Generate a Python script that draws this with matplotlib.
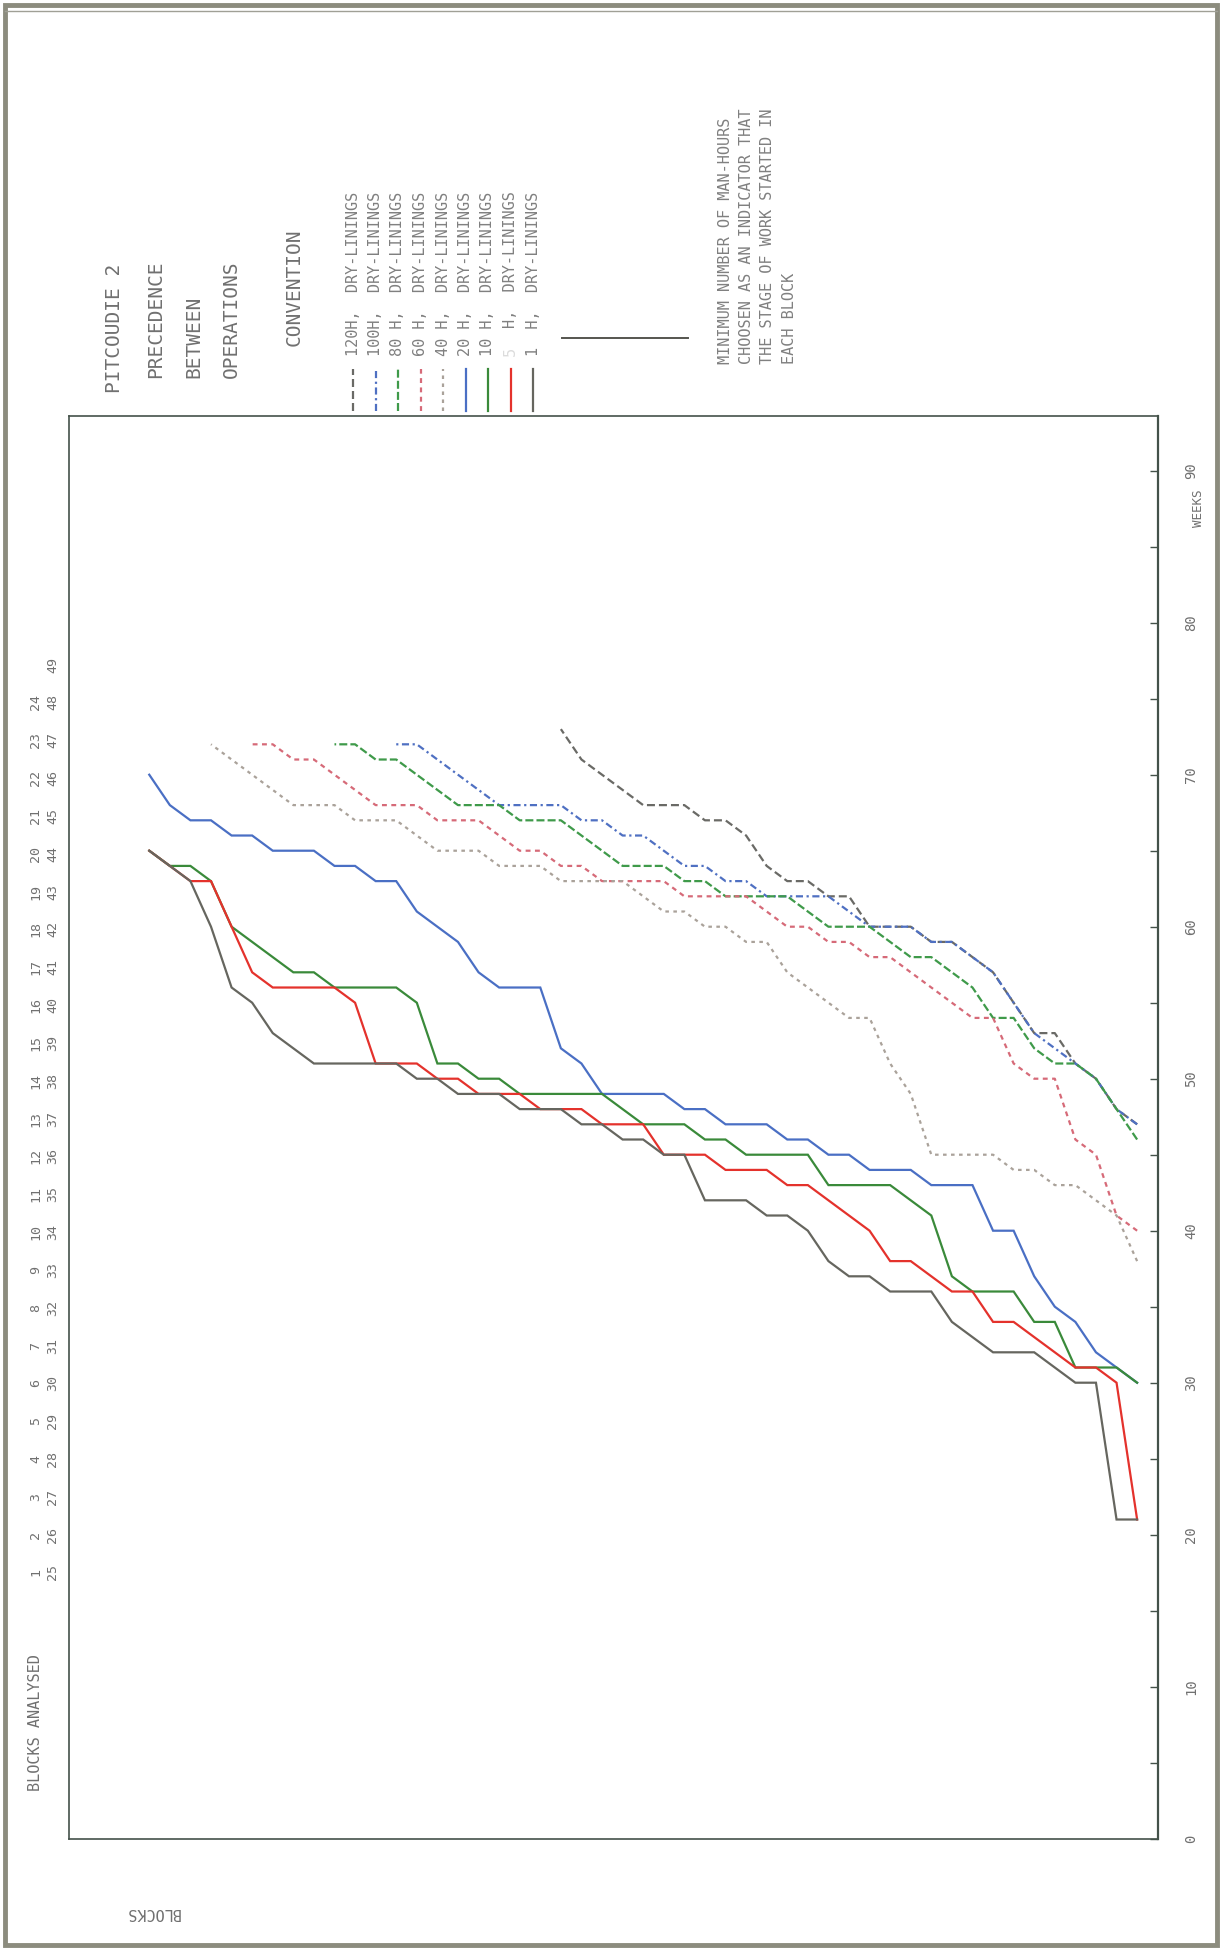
import matplotlib
matplotlib.use("Agg")
import matplotlib.pyplot as plt
from matplotlib.lines import Line2D
from matplotlib.patches import Rectangle
from matplotlib.ticker import MultipleLocator

# ---------------- data (week in which the n-th block reached the threshold) ----------------
legend_labels = ["120H,", "100H,", "80 H,", "60 H,", "40 H,", "20 H,", "10 H,", "5  H,", "1  H,"]

weeks_120h = [47, 48, 50, 51, 53, 53, 55, 57, 58, 59, 59, 60, 60, 60, 62, 62, 63, 63, 64, 66,
              67, 67, 68, 68, 68, 69, 70, 71, 73]
weeks_100h = [47, 48, 50, 51, 52, 53, 55, 57, 58, 59, 59, 60, 60, 60, 61, 62, 62, 62, 62, 63,
              63, 64, 64, 65, 66, 66, 67, 67, 68, 68, 68, 68, 69, 70, 71, 72, 72]
weeks_80h = [46, 48, 50, 51, 51, 52, 54, 54, 56, 57, 58, 58, 59, 60, 60, 60, 61, 62, 62, 62,
             62, 63, 63, 64, 64, 64, 65, 66, 67, 67, 67, 68, 68, 68, 69, 70, 71, 71, 72, 72]
weeks_60h = [40, 41, 45, 46, 50, 50, 51, 54, 54, 55, 56, 57, 58, 58, 59, 59, 60, 60, 61, 62,
             62, 62, 62, 63, 63, 63, 63, 64, 64, 65, 65, 66, 67, 67, 67, 68, 68, 68, 69, 70,
             71, 71, 72, 72]
weeks_40h = [38, 41, 42, 43, 43, 44, 44, 45, 45, 45, 45, 49, 51, 54, 54, 55, 56, 57, 59, 59,
             60, 60, 61, 61, 62, 63, 63, 63, 63, 64, 64, 64, 65, 65, 65, 66, 67, 67, 67, 68,
             68, 68, 69, 70, 71, 72]
weeks_20h = [30, 31, 32, 34, 35, 37, 40, 40, 43, 43, 43, 44, 44, 44, 45, 45, 46, 46, 47, 47,
             47, 48, 48, 49, 49, 49, 49, 51, 52, 56, 56, 56, 57, 59, 60, 61, 63, 63, 64, 64,
             65, 65, 65, 66, 66, 67, 67, 68, 70]
weeks_10h = [30, 31, 31, 31, 34, 34, 36, 36, 36, 37, 41, 42, 43, 43, 43, 43, 45, 45, 45, 45,
             46, 46, 47, 47, 47, 48, 49, 49, 49, 49, 49, 50, 50, 51, 51, 55, 56, 56, 56, 56,
             57, 57, 58, 59, 60, 63, 64, 64, 65]
weeks_5h = [21, 30, 31, 31, 32, 33, 34, 34, 36, 36, 37, 38, 38, 40, 41, 42, 43, 43, 44, 44,
            44, 45, 45, 45, 47, 47, 47, 48, 48, 48, 49, 49, 49, 50, 50, 51, 51, 51, 55, 56,
            56, 56, 56, 57, 60, 63, 63, 64, 65]
weeks_1h = [21, 21, 30, 30, 31, 32, 32, 32, 33, 34, 36, 36, 36, 37, 37, 38, 40, 41, 41, 42,
            42, 42, 45, 45, 46, 46, 47, 47, 48, 48, 48, 49, 49, 49, 50, 50, 51, 51, 51, 51,
            51, 52, 53, 55, 56, 60, 63, 64, 65]

week_ticks_major = [0, 10, 20, 30, 40, 50, 60, 70, 80, 90]
blocks_row1 = list(range(1, 25))
blocks_row2 = list(range(25, 50))

# ---------------- styles ----------------
all_weeks = [weeks_120h, weeks_100h, weeks_80h, weeks_60h, weeks_40h,
             weeks_20h, weeks_10h, weeks_5h, weeks_1h]
colors = ["#6a6a66", "#4f70c2", "#3f9a4a", "#d66a78", "#aaa29a",
          "#4a6fc4", "#3a8a3a", "#e4322c", "#66665f"]
styles = [(0, (3.6, 1.8)), (0, (3.2, 1.6, 1.0, 1.6)), (0, (3.6, 1.4)), (0, (2.2, 2.0)),
          (0, (1.6, 2.0)), "-", "-", "-", "-"]

W, H = 1222, 1950
def fx(x):
    return x / W
def fy(y):
    return 1 - y / H

FONT = "DejaVu Sans Mono"
TXT = "#707070"
FRAME = "#44524a"

fig = plt.figure(figsize=(W / 100, H / 100), dpi=100)
fig.patch.set_facecolor("white")

x_left, x_right, y_top, y_bot = 69, 1157.7, 416, 1838.7
ax = fig.add_axes([fx(x_left), fy(y_bot), fx(x_right) - fx(x_left), fy(y_top) - fy(y_bot)])

for wk, c, ls in zip(all_weeks, colors, styles):
    ranks = list(range(1, len(wk) + 1))
    ax.plot(ranks, wk, color=c, linestyle=ls, linewidth=1.6, solid_joinstyle="miter")

ax.set_xlim(52.9, 0)
ax.set_ylim(0, 93.6)
ax.set_xticks([])
ax.yaxis.tick_right()
ax.set_yticks(week_ticks_major)
ax.yaxis.set_minor_locator(MultipleLocator(5))
ax.tick_params(axis="y", which="both", direction="in", length=5.5, width=1.0, color=FRAME,
               right=True, left=False, labelright=True, labelleft=False,
               labelrotation=90, pad=19, labelsize=10, labelcolor=TXT)
for lab in ax.get_yticklabels():
    lab.set_fontfamily(FONT)
    lab.set_va("center")
for sp in ax.spines.values():
    sp.set_color(FRAME)
    sp.set_linewidth(1.2)
ax.spines["right"].set_linewidth(1.6)

# WEEKS label
fig.text(fx(1199), fy(508), "WEEKS", rotation=90, ha="center", va="center",
         fontsize=9, family=FONT, color=TXT)
# BLOCKS (upside down, as in the scan)
fig.text(fx(152), fy(1913), "BLOCKS", rotation=180, ha="center", va="center",
         fontsize=11, family=FONT, color=TXT)

# blocks analysed
fig.text(fx(36), fy(1723), "BLOCKS ANALYSED", rotation=90, ha="center", va="center",
         fontsize=11, family=FONT, color=TXT)
for i, n in enumerate(blocks_row1):
    fig.text(fx(36), fy(1572.5 - 37.83 * i), str(n), rotation=90, ha="center", va="center",
             fontsize=9.5, family=FONT, color=TXT)
for i, n in enumerate(blocks_row2):
    fig.text(fx(53), fy(1572.5 - 37.83 * i), str(n), rotation=90, ha="center", va="center",
             fontsize=9.5, family=FONT, color=TXT)

# title block
titles = [("PITCOUDIE 2", 114, 393), ("PRECEDENCE", 156, 378), ("BETWEEN", 194, 378),
          ("OPERATIONS", 231, 378), ("CONVENTION", 294, 346)]
for t, x, y in titles:
    fig.text(fx(x), fy(y), t, rotation=90, ha="center", va="bottom",
             fontsize=14, family=FONT, color=TXT)

# legend
char_adv = 0.602 * 11 * 100 / 72  # advance of one mono character in pixels
for i, (lab, c, ls) in enumerate(zip(legend_labels, colors, styles)):
    x = 353 + 22.5 * i
    fig.add_artist(Line2D([fx(x), fx(x)], [fy(411), fy(369)], color=c, linestyle=ls,
                          linewidth=1.6, transform=fig.transFigure))
    if i == 7:
        # the number on this row is nearly invisible in the scan
        fig.text(fx(x), fy(356), lab[0], rotation=90, ha="center", va="bottom",
                 fontsize=11, family=FONT, color="#dcdcdc")
        fig.text(fx(x), fy(356 - 3 * char_adv), lab[3:] + "  DRY-LININGS", rotation=90,
                 ha="center", va="bottom", fontsize=11, family=FONT, color="#808080")
    else:
        fig.text(fx(x), fy(356), lab + "  DRY-LININGS", rotation=90, ha="center",
                 va="bottom", fontsize=11, family=FONT, color="#808080")

fig.add_artist(Line2D([fx(562), fx(688)], [fy(338), fy(338)], color="#55554f",
                      linewidth=1.4, transform=fig.transFigure))

note = ["MINIMUM NUMBER OF MAN-HOURS", "CHOOSEN AS AN INDICATOR THAT",
        "THE STAGE OF WORK STARTED IN", "EACH BLOCK"]
for i, t in enumerate(note):
    fig.text(fx(725 + 21.5 * i), fy(364), t, rotation=90, ha="center", va="bottom",
             fontsize=11, family=FONT, color="#808080")

# page border of the scan
fig.add_artist(Rectangle((fx(5), fy(1945)), fx(1217) - fx(5), fy(5) - fy(1945),
                         fill=False, edgecolor="#8c8c7e", linewidth=3.5,
                         transform=fig.transFigure))
fig.add_artist(Line2D([fx(5), fx(1217)], [fy(11), fy(11)], color="#a0a096",
                      linewidth=1.0, transform=fig.transFigure))

fig.savefig("out.png", dpi=100, facecolor="white")
